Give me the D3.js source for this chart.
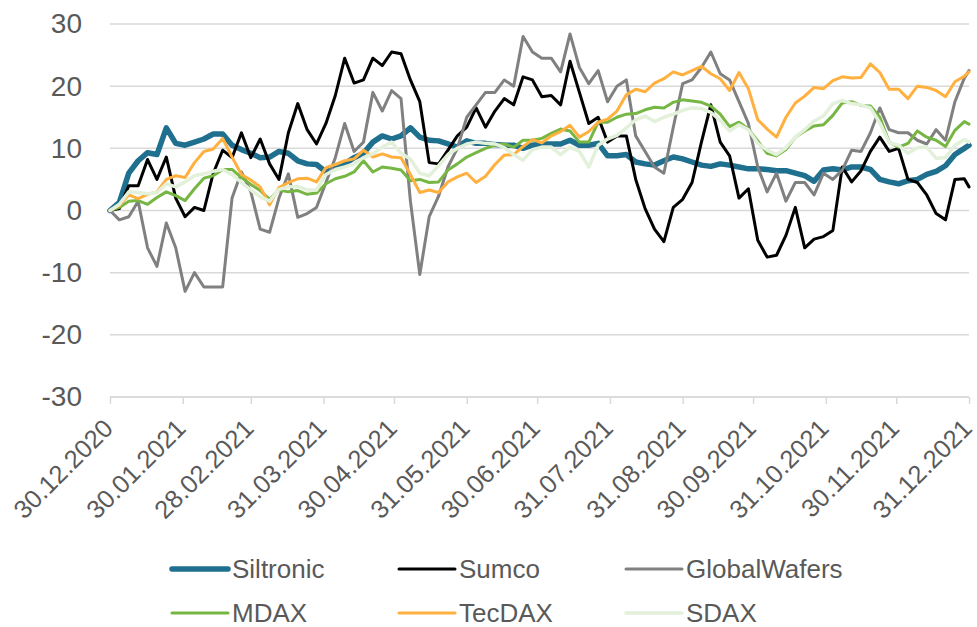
<!doctype html>
<html lang="en">
<head>
<meta charset="utf-8">
<title>Kursentwicklung 2021</title>
<style>
  body { margin: 0; background: #ffffff; }
  svg text { font-family: "Liberation Sans", Arial, sans-serif; fill: #595959; }
</style>
</head>
<body>
<script src="https://cdn.jsdelivr.net/npm/d3@7/dist/d3.min.js"></script>
<script>
// Size of the picture
var w = 977;
var h = 627;

// categories: samples every 4 days from 30.12.2020
var startDate = new Date(2020, 11, 30);
var dayOffsets = d3.range(0, 365, 4).concat([366]);
var tickLabels = ["30.12.2020", "30.01.2021", "28.02.2021", "31.03.2021", "30.04.2021",
  "31.05.2021", "30.06.2021", "31.07.2021", "31.08.2021", "30.09.2021",
  "31.10.2021", "30.11.2021", "31.12.2021"];
var yTicks = [-30, -20, -10, 0, 10, 20, 30];

// performance in %
var siltronic = [0, 1.3, 6, 8, 9.3, 9, 13.3, 10.8, 10.5, 11,
  11.5, 12.3, 12.3, 10.5, 9.8, 9.2, 8.5, 8.6, 9.5, 9.2,
  8.0, 7.5, 7.4, 6.2, 6.8, 7.5, 8.5, 9.2, 11, 12,
  11.5, 12, 13.3, 11.8, 11.3, 11.2, 10.7, 10.2, 11.2, 10.8,
  10.8, 10.6, 10.5, 10.5, 10.0, 10.5, 10.7, 10.7, 10.7, 11.3,
  10.5, 10.5, 10.8, 8.8, 8.8, 9, 7.8, 7.5, 7.3, 8.0,
  8.6, 8.3, 7.8, 7.3, 7.1, 7.5, 7.3, 7.0, 6.7, 6.7,
  6.6, 6.4, 6.4, 6.0, 5.6, 4.7, 6.5, 6.7, 6.5, 7.0,
  7.0, 6.6, 5.0, 4.6, 4.3, 4.8, 5.0, 5.8, 6.3, 7.2,
  9.0, 10.0, 10.5];

var sumco = [0, 0.3, 4, 4, 8.2, 5, 8.6, 2, -1, 0.5,
  0, 6, 9.7, 8.5, 12.5, 8.5, 11.5, 7.5, 5, 12.5,
  17.2, 13, 10.7, 14, 18.5, 24.5, 20.5, 21, 24.5, 23.3,
  25.5, 25.2, 21, 17.5, 7.7, 7.5, 9.7, 12, 13.4, 16.5,
  13.4, 16, 18, 17, 21.5, 21, 18.3, 18.5, 17, 24,
  19, 14, 15, 11, 12, 12, 5, 0.3, -3, -5,
  0.5, 1.8, 4.5, 11, 17, 11, 8.8, 2, 3.5, -4.8,
  -7.5, -7.2, -4, 0.5, -6, -4.6, -4.2, -3.2, 7, 4.6,
  6.4, 9.5, 11.8, 9.5, 10, 5, 4.5, 2.5, -0.5, -1.5,
  5, 5.1, 3.8];

var globalWafers = [0, -1.5, -1, 1.5, -6, -9, -2, -6, -13, -10,
  -12.3, -12.3, -12.3, 2, 6.2, 3, -3, -3.5, 2, 5.9,
  -1.1, -0.5, 0.5, 4.5, 8.5, 14, 9.5, 11, 19, 16,
  19.3, 18, 1.5, -10.3, -1, 2.3, 7, 10, 15, 17,
  19, 19, 21, 20, 28, 25.5, 24.5, 24.5, 22.3, 28.4,
  23, 20.4, 22.5, 17.5, 20, 21, 12, 9.5, 7, 6,
  13.4, 20.4, 21, 23, 25.5, 22, 21, 17.5, 14, 7,
  3, 6, 1.5, 4.5, 4.5, 2.5, 6, 5, 6.5, 9.7,
  9.5, 12.5, 16.5, 13, 12.5, 12.5, 11.3, 10.7, 13, 11.3,
  17.5, 21.3, 22.5];

var mdax = [0, 0.5, 1.5, 1.6, 1, 2.1, 3, 2.4, 1.6, 3.5,
  5.2, 5.6, 6.6, 6.6, 5.3, 4.2, 3.2, 1.8, 3.3, 3,
  3.2, 2.6, 2.8, 4.3, 5.1, 5.5, 6.2, 8, 6.2, 7,
  6.8, 6.5, 4.8, 5, 4.5, 4.6, 6.5, 7.5, 8.6, 9.3,
  10, 10.5, 10.7, 10.2, 11.3, 11.3, 11.6, 12.4, 13.1, 12.8,
  11, 11, 14.2, 14.2, 15, 15.5, 15.6, 16.2, 16.6, 16.5,
  17.4, 17.8, 17.6, 17.4, 16.8, 15.5, 13.5, 14.2, 13.1, 11.2,
  9.2, 8.8, 9.8, 11.8, 12.8, 13.6, 13.8, 15.3, 17.3, 17.5,
  16.9, 16.8, 15, 11, 10.2, 10.8, 12.8, 11.8, 11.3, 10.3,
  12.9, 14.3, 13.9];

var tecdax = [0, 0.8, 2.5, 1.9, 2.6, 3, 5, 5.6, 5.3, 7.7,
  9.5, 9.9, 11.6, 8.6, 5.8, 4.9, 3.8, 0.9, 3.7, 4.5,
  5.1, 5.2, 4.6, 6.9, 7.4, 8, 8.3, 9.7, 8.6, 9.1,
  8.6, 8.5, 5.8, 2.9, 3.3, 2.9, 4.6, 5.4, 6, 4.5,
  5.5, 7.4, 8.9, 9, 10.3, 11.4, 10.9, 12, 12.7, 13.7,
  11.8, 12.7, 14.2, 14.7, 16, 18.6, 19.5, 19.1, 20.5, 21.2,
  22.3, 21.8, 22.5, 23.2, 22, 21.2, 19.3, 22.2, 19.6, 14.6,
  13.1, 11.8, 15, 17.3, 18.4, 19.8, 19.6, 20.9, 21.5, 21.3,
  21.4, 23.6, 22.2, 19.5, 19.5, 18, 20, 19.8, 19.3, 18.3,
  20.7, 21.6, 22.3];

var sdax = [0, 1, 3, 2.9, 2.7, 2.9, 4.3, 3.8, 4.6, 5.6,
  5.9, 6.3, 6.6, 5.8, 4.5, 3.3, 2.2, 1.5, 3.4, 3.8,
  3.9, 3.3, 3.3, 5.8, 6.6, 7, 7.5, 8.5, 9.1, 10.2,
  11, 9.2, 8.3, 6, 5.6, 7.2, 9, 10, 10.7, 11,
  10.8, 10.7, 10.1, 9, 8.1, 9.8, 10.2, 10.2, 9, 10.2,
  9.5, 7, 10.5, 11.5, 12.1, 13.3, 14.6, 15.2, 14.3, 15,
  15.5, 16.1, 16.5, 16.4, 15.8, 14.5, 12.8, 13.8, 13, 10.8,
  9.7, 9, 10.1, 11.8, 13, 14.4, 15.2, 17.2, 17.7, 17.2,
  17, 16.5, 14.1, 10.9, 10.5, 9.2, 10.1, 10.2, 8.4, 8.5,
  10.5, 11.4, 11];

var seriesNames = ["Siltronic", "Sumco", "GlobalWafers", "MDAX", "TecDAX", "SDAX"];
var seriesValues = [siltronic, sumco, globalWafers, mdax, tecdax, sdax];
var seriesColors = ["#1f6f8e", "#000000", "#808080", "#76b643", "#ffb03f", "#e3f0da"];
var seriesWidths = [5.5, 3, 3, 3, 3, 3.5];

var parseDay = d3.timeParse("%d.%m.%Y");
var dates = dayOffsets.map(function(d) { return d3.timeDay.offset(startDate, d); });
var tickDates = tickLabels.map(parseDay);

// scales
var x = d3.scaleTime()
  .domain([startDate, parseDay("31.12.2021")])
  .range([110, 969]);

var y = d3.scaleLinear()
  .domain([-30, 30])
  .range([397, 24]);

var svg = d3.select("body")
  .append("svg")
  .attr("width", w)
  .attr("height", h);

// gridlines
svg.append("g")
  .selectAll("line")
  .data(yTicks)
  .enter()
  .append("line")
  .attr("x1", x.range()[0])
  .attr("x2", x.range()[1])
  .attr("y1", function(d) { return y(d); })
  .attr("y2", function(d) { return y(d); })
  .style("stroke", "#d9d9d9")
  .style("stroke-width", 1.5);

// y axis labels (plain hyphen for negatives, like the original)
var yAxis = d3.axisLeft(y)
  .tickValues(yTicks)
  .tickSize(0)
  .tickPadding(28)
  .tickFormat(function(d) { return String(d); });
var gy = svg.append("g")
  .attr("transform", "translate(110,0)")
  .call(yAxis);
gy.select(".domain").remove();
gy.selectAll("text")
  .style("font-size", "28px")
  .attr("fill", "#595959");

// x axis
var xAxis = d3.axisBottom(x).tickValues(tickDates).tickSize(7).tickFormat(d3.timeFormat("%d.%m.%Y"));
var gx = svg.append("g")
  .attr("transform", "translate(0," + y(-30) + ")")
  .call(xAxis);
gx.select(".domain").style("stroke", "#d9d9d9").style("stroke-width", 1.5)
  .attr("d", "M" + x.range()[0] + ",0H" + x.range()[1]);
gx.selectAll(".tick line").style("stroke", "#d9d9d9").style("stroke-width", 1.5);
gx.selectAll(".tick text")
  .style("font-size", "25.5px")
  .attr("fill", "#595959")
  .attr("text-anchor", "end")
  .attr("x", 0)
  .attr("y", 0)
  .attr("dy", 0)
  .attr("transform", "translate(4,33) rotate(-45)");

// lines
var line = d3.line()
  .x(function(d, i) { return x(dates[i]); })
  .y(function(d) { return y(d); });

svg.append("g")
  .selectAll("path")
  .data(seriesValues)
  .enter()
  .append("path")
  .attr("d", line)
  .style("fill", "none")
  .style("stroke", function(d, i) { return seriesColors[i]; })
  .style("stroke-width", function(d, i) { return seriesWidths[i]; })
  .style("stroke-linejoin", "round")
  .style("stroke-linecap", "round");

// legend
var legend = svg.append("g")
  .selectAll("g")
  .data(seriesNames)
  .enter()
  .append("g")
  .attr("transform", function(d, i) {
    return "translate(" + (172 + (i % 3) * 227) + "," + (569 + Math.floor(i / 3) * 44) + ")";
  });

legend.append("line")
  .attr("x1", 0)
  .attr("x2", 56)
  .style("stroke", function(d, i) { return seriesColors[i]; })
  .style("stroke-width", function(d, i) { return seriesWidths[i]; })
  .style("stroke-linecap", "round");

legend.append("text")
  .attr("x", 60)
  .attr("dy", "0.35em")
  .style("font-size", "26px")
  .text(function(d) { return d; });
</script>
</body>
</html>
